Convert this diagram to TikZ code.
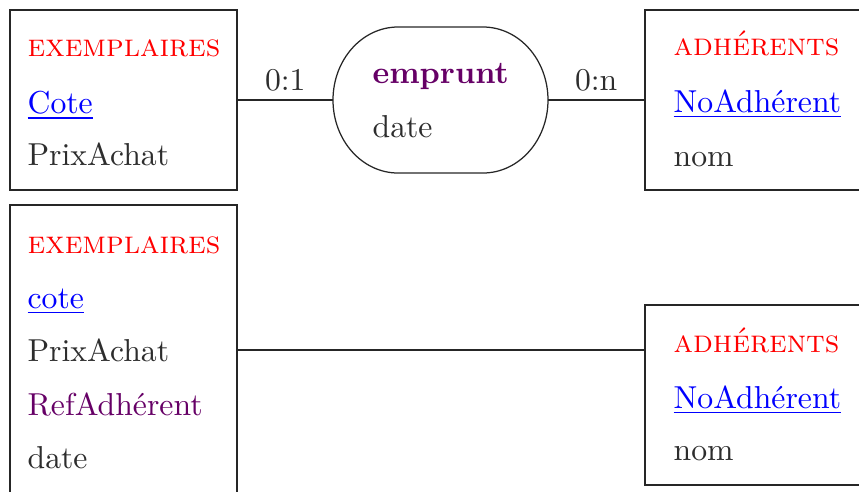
\documentclass[tikz,border=0pt]{standalone}
\usepackage{fontspec}
\usetikzlibrary{fit}
\definecolor{entc}{RGB}{255,0,0}
\definecolor{keyc}{RGB}{0,0,255}
\definecolor{relc}{RGB}{102,0,102}
\definecolor{txtc}{RGB}{45,45,45}
\begin{document}
\begin{tikzpicture}[x=0.32pt,y=-0.32pt,
  every node/.style={font=\fontsize{10.15pt}{12pt}\selectfont},
  box/.style={draw=black!85, inner sep=0pt, line width=0.4pt},
  lbl/.style={anchor=base west, inner sep=0pt, text=txtc},
  titl/.style={lbl, text=entc},
  keyt/.style={lbl, text=keyc},
  conn/.style={draw=black!85, line width=0.4pt},
  card/.style={midway, above, inner sep=2.6pt, text=txtc}]
\clip (0,0) rectangle (859,491);
% top left entity
\node[box, fit={(10,10)(237,190)}] (e1) {};
\node[titl] (e1t) at (27,56) {\textsc{exemplaires}};
\node[keyt] (e1k) at (27,113) {\underline{Cote}};
\node[lbl] (e1a) at (27,165) {PrixAchat};
% relation
\node[inner sep=0pt, outer sep=0pt, fit={(333,27)(548,173)}] (r) {};
\draw[conn] ([xshift=20.8pt]r.north west) -- ([xshift=-20.8pt]r.north east)
  arc[start angle=90, end angle=-90, x radius=20.8pt, y radius=23.36pt]
  -- ([xshift=20.8pt]r.south west)
  arc[start angle=270, end angle=90, x radius=20.8pt, y radius=23.36pt] -- cycle;
\node[lbl, text=relc] (rt) at (372,83) {\textbf{emprunt}};
\node[lbl] (rd) at (372,137) {date};
% top right entity
\node[box, fit={(645,10)(900,190)}] (a1) {};
\node[titl] (a1t) at (673,55) {\textsc{adhérents}};
\node[keyt] (a1k) at (673,112) {\underline{NoAdhérent}};
\node[lbl] (a1a) at (673,166) {nom};
% bottom left entity
\node[box, fit={(10,205)(237,560)}] (e2) {};
\node[titl] (e2t) at (27,253) {\textsc{exemplaires}};
\node[keyt] (e2k) at (27,308) {\underline{cote}};
\node[lbl] (e2a) at (27,361) {PrixAchat};
\node[lbl, text=relc] (e2b) at (27,415) {RefAdhérent};
\node[lbl] (e2c) at (27,468) {date};
% bottom right entity
\node[box, fit={(645,305)(900,485)}] (a2) {};
\node[titl] (a2t) at (673,352) {\textsc{adhérents}};
\node[keyt] (a2k) at (673,408) {\underline{NoAdhérent}};
\node[lbl] (a2a) at (673,460) {nom};
% connectors
\draw[conn] (e1) -- node[card] {0:1} (r);
\draw[conn] (r) -- node[card] {0:n} (a1);
\coordinate (y350) at (0,350);
\draw[conn] (e2.east |- y350) -- (a2.west |- y350);
\end{tikzpicture}
\end{document}
